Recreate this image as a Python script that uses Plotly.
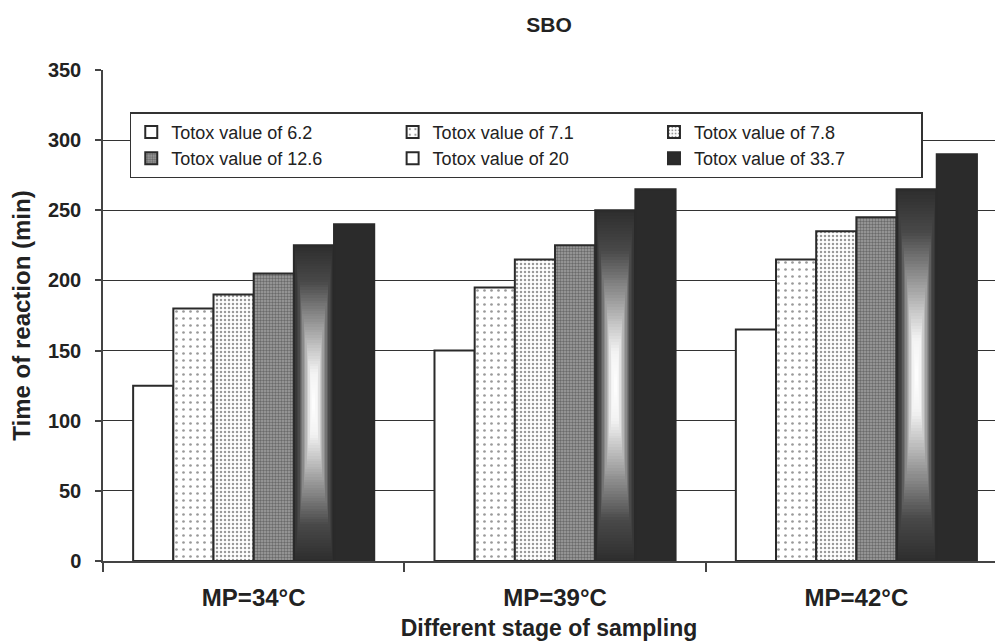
import numpy as np
import plotly.graph_objects as go

categories = ["MP=34°C", "MP=39°C", "MP=42°C"]
series_names = ["Totox value of 6.2", "Totox value of 7.1", "Totox value of 7.8",
                "Totox value of 12.6", "Totox value of 20", "Totox value of 33.7"]
totox_6_2 = [125, 150, 165]
totox_7_1 = [180, 195, 215]
totox_7_8 = [190, 215, 235]
totox_12_6 = [205, 225, 245]
totox_20 = [225, 250, 265]
totox_33_7 = [240, 265, 290]
y_ticks = [0, 50, 100, 150, 200, 250, 300, 350]

series_values = [totox_6_2, totox_7_1, totox_7_8, totox_12_6, totox_20, totox_33_7]

FONT = "Liberation Sans, Arial, sans-serif"
EDGE = "#2a2a2a"
x_pos = list(range(len(categories)))
n_series = len(series_names)
group_width = 0.8
bar_w = group_width / n_series

styles = [
    dict(color="white"),
    dict(color="white", pattern=dict(shape=".", size=7, solidity=0.12, fgcolor="#333333", bgcolor="white")),
    dict(color="white", pattern=dict(shape=".", size=4, solidity=0.3, fgcolor="#333333", bgcolor="white")),
    dict(color="#888888", pattern=dict(shape=".", size=3, solidity=0.5, fgcolor="#333333", bgcolor="#a0a0a0")),
    dict(color="rgba(0,0,0,0)"),
    dict(color="#2b2b2b"),
]

fig = go.Figure()

# gradient fill for the "Totox value of 20" bars (drawn under the outlined bars)
gi = 4
ncols, nrows = 28, 120
u = np.linspace(-1, 1, ncols)
for k, v in enumerate(series_values[gi]):
    center = x_pos[k] - group_width / 2 + (gi + 0.5) * bar_w
    xe = np.linspace(center - bar_w / 2, center + bar_w / 2, ncols + 1)
    ye = np.linspace(0, v, nrows + 1)
    w = np.linspace(-1, 1, nrows)
    z = np.maximum(np.abs(u)[None, :], np.abs(w)[:, None])
    fig.add_trace(go.Heatmap(
        x=xe, y=ye, z=z, zmin=0, zmax=1, showscale=False, hoverinfo="skip",
        colorscale=[[0, "#ffffff"], [0.2, "#f2f2f2"], [0.5, "#9a9a9a"], [0.78, "#484848"], [1, "#2e2e2e"]],
        showlegend=False,
    ))

for name, vals, st in zip(series_names, series_values, styles):
    fig.add_trace(go.Bar(
        x=x_pos, y=vals, name=name,
        marker=dict(line=dict(color=EDGE, width=2), **st),
    ))

fig.update_layout(
    width=995, height=643,
    margin=dict(l=103, r=0, t=70, b=82),
    paper_bgcolor="white", plot_bgcolor="white",
    barmode="group", bargap=0.2, bargroupgap=0,
    font=dict(family=FONT, color="#222222"),
    title=dict(text="<b>SBO</b>", x=0.5, xref="paper", xanchor="center",
               y=1 - 25 / 643, yref="container", yanchor="middle",
               font=dict(size=21, family=FONT, color="#222222")),
    legend=dict(orientation="h", x=0.03, y=0.914, xanchor="left", yanchor="top",
                bordercolor="#333333", borderwidth=1.5, bgcolor="white",
                entrywidth=0.293, entrywidthmode="fraction",
                font=dict(size=18, family=FONT, color="#222222"),
                traceorder="normal", itemwidth=30, tracegroupgap=0),
    showlegend=True,
)

fig.update_xaxes(
    range=[-0.5, 2.46], tickvals=x_pos, ticktext=[f"<b>{c}</b>" for c in categories],
    ticks="", ticklabelstandoff=14,
    tickfont=dict(size=24, family=FONT, color="#222222"),
    showline=True, linecolor="#444444", linewidth=1.5, showgrid=False, zeroline=False,
    minor=dict(tick0=0.5, dtick=1, ticks="outside", ticklen=9, tickcolor="#444444", tickwidth=1.5, showgrid=False),
    title=dict(text="<b>Different stage of sampling</b>", font=dict(size=23, family=FONT, color="#222222"), standoff=10),
)
fig.update_yaxes(
    range=[0, 350], tickvals=y_ticks, ticktext=[f"<b>{t}</b>" for t in y_ticks],
    ticks="outside", ticklen=6, tickcolor="#444444", tickwidth=1.5, ticklabelstandoff=10,
    tickfont=dict(size=20, family=FONT, color="#222222"),
    showline=True, linecolor="#444444", linewidth=1.5,
    showgrid=True, gridcolor="#333333", gridwidth=1.3, zeroline=False,
    title=dict(text="<b>Time of reaction (min)</b>", font=dict(size=24, family=FONT, color="#222222"), standoff=10),
)

fig.write_html("out.html")
